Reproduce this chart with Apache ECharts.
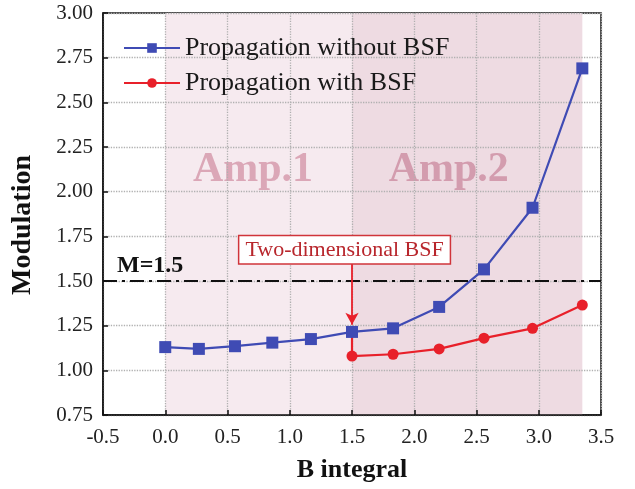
<!DOCTYPE html>
<html>
<head>
<meta charset="utf-8">
<script src="https://cdn.jsdelivr.net/npm/echarts@6/dist/echarts.min.js"></script>
<style>html,body{margin:0;padding:0;background:#fff;}#c{width:635px;height:489px;}</style>
</head>
<body>
<div id="c"></div>
<script>
// Data
const xWithout = [0.0, 0.27, 0.56, 0.86, 1.17, 1.5, 1.83, 2.2, 2.56, 2.95, 3.35];
const yWithout = [1.13, 1.12, 1.135, 1.155, 1.175, 1.215, 1.235, 1.355, 1.565, 1.91, 2.69];
const xWith = [1.5, 1.83, 2.2, 2.56, 2.95, 3.35];
const yWith = [1.08, 1.09, 1.12, 1.18, 1.235, 1.365];
const xTicks = [-0.5, 0.0, 0.5, 1.0, 1.5, 2.0, 2.5, 3.0, 3.5];
const yTicks = [0.75, 1.00, 1.25, 1.50, 1.75, 2.00, 2.25, 2.50, 2.75, 3.00];
const seriesNames = ['Propagation without BSF', 'Propagation with BSF'];
const threshold = 1.5;
const regions = [['Amp.1', 0.0, 1.5], ['Amp.2', 1.5, 3.35]];

const FONT = "'Liberation Serif', 'Times New Roman', serif";
const BLUE = '#3f4bb4';
const RED = '#e8202a';

const blueData = xWithout.map((x, i) => [x, yWithout[i]]);
// connecting segment from the "without" point at B=1.5 down to the first "with" point
const redData = [{ value: [xWithout[5], yWithout[5]], symbol: 'none' }]
  .concat(xWith.map((x, i) => [x, yWith[i]]));

const chart = echarts.init(document.getElementById('c'));
chart.setOption({
  animation: false,
  backgroundColor: '#fff',
  textStyle: { fontFamily: FONT },
  grid: { left: 103, right: 34, top: 13, bottom: 74, show: true, borderColor: '#111', borderWidth: 1.5, backgroundColor: 'transparent' },
  legend: {
    orient: 'vertical', left: 118, top: 30, itemWidth: 56, itemHeight: 12, itemGap: 9,
    textStyle: { fontFamily: FONT, fontSize: 26, color: '#1a1a1a' },
    data: seriesNames
  },
  xAxis: {
    type: 'value', min: xTicks[0], max: xTicks[xTicks.length - 1], interval: 0.5, z: 1.5,
    name: 'B integral', nameLocation: 'middle', nameGap: 42,
    nameTextStyle: { fontFamily: FONT, fontSize: 26, fontWeight: 'bold', color: '#111' },
    axisLine: { onZero: false, lineStyle: { color: '#111', width: 1.5 } },
    axisTick: { inside: true, length: 5, lineStyle: { color: '#111', width: 1.5 } },
    axisLabel: { fontFamily: FONT, fontSize: 21, color: '#222', margin: 12, formatter: v => v.toFixed(1) },
    splitLine: { show: true, lineStyle: { color: '#b0b0b0', type: 'dotted', width: 1.3 } }
  },
  yAxis: {
    type: 'value', min: yTicks[0], max: yTicks[yTicks.length - 1], interval: 0.25, z: 1.5,
    name: 'Modulation', nameLocation: 'middle', nameGap: 66,
    nameTextStyle: { fontFamily: FONT, fontSize: 28, fontWeight: 'bold', color: '#111', padding: [0, 22, 0, 0] },
    axisLine: { onZero: false, lineStyle: { color: '#111', width: 1.5 } },
    axisTick: { inside: true, length: 5, lineStyle: { color: '#111', width: 1.5 } },
    axisLabel: { fontFamily: FONT, fontSize: 21, color: '#222', margin: 10, formatter: v => v.toFixed(2) },
    splitLine: { show: true, lineStyle: { color: '#b0b0b0', type: 'dotted', width: 1.3 } }
  },
  series: [
    {
      name: seriesNames[0], type: 'line', data: blueData,
      symbol: 'rect', symbolSize: 12, z: 3,
      lineStyle: { color: BLUE, width: 2.2 }, itemStyle: { color: BLUE },
      markArea: {
        silent: true, z: 1,
        data: [
          [{ xAxis: regions[0][1], itemStyle: { color: '#f6eaef' },
             label: { show: true, formatter: regions[0][0], position: ['47%', '39%'], align: 'center', verticalAlign: 'middle',
                      fontFamily: FONT, fontSize: 42, fontWeight: 'bold', color: '#dba7b7' } },
           { xAxis: regions[0][2] }],
          [{ xAxis: regions[1][1], itemStyle: { color: '#eedbe2' },
             label: { show: true, formatter: regions[1][0], position: ['42%', '39%'], align: 'center', verticalAlign: 'middle',
                      fontFamily: FONT, fontSize: 42, fontWeight: 'bold', color: '#d39cae' } },
           { xAxis: regions[1][2] }]
        ]
      },
      markLine: {
        silent: true, symbol: ['none', 'none'],
        lineStyle: { color: '#111', width: 2.2, type: [14, 5, 3, 5] },
        label: { show: true, formatter: 'M=' + threshold, position: 'insideStartTop', distance: [14, 3],
                 fontFamily: FONT, fontSize: 24, fontWeight: 'bold', color: '#111' },
        data: [{ yAxis: threshold }]
      }
    },
    {
      name: seriesNames[1], type: 'line', data: redData,
      symbol: 'circle', symbolSize: 11, z: 3,
      lineStyle: { color: RED, width: 2.2 }, itemStyle: { color: RED },
      markLine: {
        silent: true, symbol: ['none', 'arrow'], symbolSize: [10, 12],
        lineStyle: { color: RED, width: 1.8, type: 'solid' },
        label: { show: false },
        data: [[{ coord: [1.5, 1.605] }, { coord: [1.5, 1.255] }]]
      },
      markPoint: {
        silent: true, symbol: 'rect', symbolSize: 1, itemStyle: { color: 'rgba(0,0,0,0)' },
        label: { show: true, formatter: 'Two-dimensional BSF', position: 'inside',
                 fontFamily: FONT, fontSize: 22, color: '#b8262c',
                 backgroundColor: '#fff', borderColor: '#d0343a', borderWidth: 1.5, padding: [3, 6, 2, 6] },
        data: [{ coord: [1.44, 1.675] }]
      }
    }
  ]
});
</script>
</body>
</html>
